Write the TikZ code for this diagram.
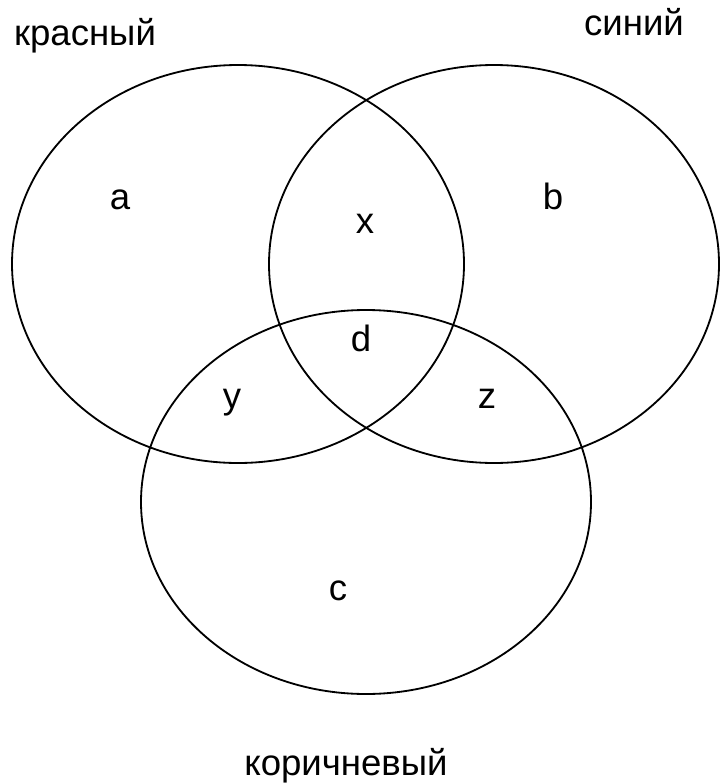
\documentclass[tikz,border=0pt]{standalone}
\usepackage{fontspec}
\setmainfont{Liberation Sans}
\usetikzlibrary{positioning}
\tikzset{
  set/.style={draw=black,line width=1.3pt},
  lbl/.style={font=\fontsize{26}{31}\selectfont,inner sep=0pt,anchor=base},
}
\begin{document}
\begin{tikzpicture}[x=0.025cm,y=-0.025cm]
    \useasboundingbox (0,0) rectangle (720,783);
    % the three sets
    \draw[set] (238,264) ellipse [x radius=226,y radius=199];
    \draw[set] (494,264) ellipse [x radius=225,y radius=199];
    \draw[set] (366,502) ellipse [x radius=225,y radius=192];
    % set names
    \node[lbl] (red) at (85,45) {красный};
    \node[lbl] (blue) at (634,35) {синий};
    \node[lbl] (brown) at (346,775) {коричневый};
    % regions
    \foreach \x/\y/\t in {120/209/a,365/233/x,553/209/b,361/351/d,232/408/y,487/408/z,338/600/c}
      \node[lbl] (r\t) at (\x,\y) {\t};
\end{tikzpicture}
\end{document}
